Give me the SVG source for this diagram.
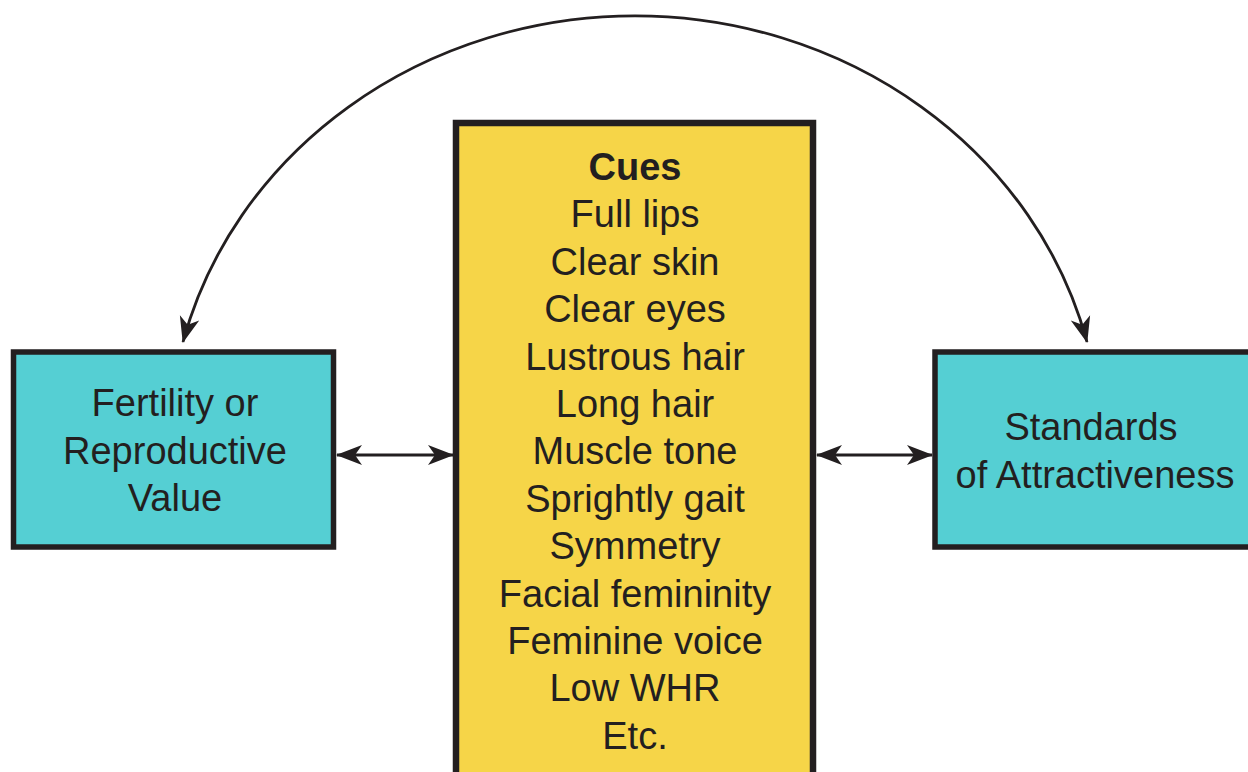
<svg xmlns="http://www.w3.org/2000/svg" width="1248" height="772" viewBox="0 0 1248 772">
<style>
.txt{font-family:"Liberation Sans",Arial,sans-serif;font-size:38px;fill:#231f20;text-anchor:middle}
.bold{font-weight:bold}
.box{stroke:#231f20;stroke-width:5.5}
.conn{fill:none;stroke:#231f20;stroke-width:2.8}
</style>
<defs>
<marker id="ah" markerUnits="userSpaceOnUse" markerWidth="26" markerHeight="22" viewBox="0 0 26 22" refX="25" refY="11" orient="auto-start-reverse">
<path d="M0,1 L26,11 L0,21 L7,11 Z" fill="#231f20"/>
</marker>
</defs>
<rect width="1248" height="772" fill="#ffffff"/>
<g id="connectors">
<path class="conn" d="M 183 342 A 466 431 0 0 1 1087 342" marker-start="url(#ah)" marker-end="url(#ah)"/>
<line class="conn" x1="337" y1="455" x2="453" y2="455" marker-start="url(#ah)" marker-end="url(#ah)"/>
<line class="conn" x1="817" y1="455" x2="932" y2="455" marker-start="url(#ah)" marker-end="url(#ah)"/>
</g>
<g id="fertility">
<rect class="box" x="13.5" y="352" width="320" height="195" fill="#55cfd3"/>
<text class="txt" x="175" y="416">Fertility or</text>
<text class="txt" x="175" y="464">Reproductive</text>
<text class="txt" x="175" y="511">Value</text>
</g>
<g id="cues">
<rect x="456" y="123" width="357" height="700" fill="#f6d548" stroke="#231f20" stroke-width="6.5"/>
<text class="txt bold" x="635" y="180">Cues</text>
<text class="txt" x="635" y="227.4">Full lips</text>
<text class="txt" x="635" y="274.8">Clear skin</text>
<text class="txt" x="635" y="322.2">Clear eyes</text>
<text class="txt" x="635" y="369.6">Lustrous hair</text>
<text class="txt" x="635" y="417">Long hair</text>
<text class="txt" x="635" y="464.4">Muscle tone</text>
<text class="txt" x="635" y="511.8">Sprightly gait</text>
<text class="txt" x="635" y="559.2">Symmetry</text>
<text class="txt" x="635" y="606.6">Facial femininity</text>
<text class="txt" x="635" y="654">Feminine voice</text>
<text class="txt" x="635" y="701.4">Low WHR</text>
<text class="txt" x="635" y="748.8">Etc.</text>
</g>
<g id="standards">
<rect class="box" x="935" y="352" width="330" height="195" fill="#55cfd3"/>
<text class="txt" x="1091" y="440">Standards</text>
<text class="txt" x="1095" y="488">of Attractiveness</text>
</g>
</svg>
